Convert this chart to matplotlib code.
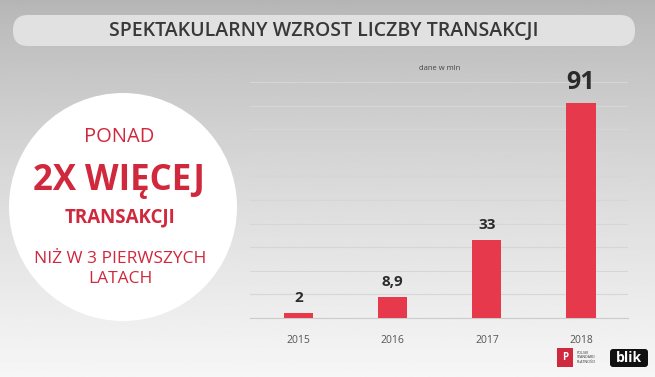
import matplotlib
matplotlib.use("Agg")
import matplotlib.pyplot as plt
from matplotlib.patches import FancyBboxPatch, Circle, Rectangle
import numpy as np

plt.rcParams['font.family'] = ['Open Sans', 'DejaVu Sans']

# data
years = ["2015", "2016", "2017", "2018"]
transakcje = [2, 8.9, 33, 91]
etykiety = ["2", "8,9", "33", "91"]
rozmiary = [11, 11, 11, 18]

W, H = 655, 377
fig = plt.figure(figsize=(W / 100, H / 100), dpi=100)

# tlo - cala figura w pikselach
bg = fig.add_axes([0, 0, 1, 1])
bg.set_xlim(0, W)
bg.set_ylim(H, 0)
bg.axis("off")
t = np.linspace(0, 1, 200) ** 0.8
grad = 0.71 + (0.965 - 0.71) * t
bg.imshow(np.repeat(grad[:, None], 2, axis=1), cmap="gray", vmin=0, vmax=1,
          extent=[0, W, H, 0], aspect="auto", zorder=0)

# naglowek
bg.add_patch(FancyBboxPatch((13, 15), 622, 31, boxstyle="round,pad=0,rounding_size=15",
                            fc="#e1e1e1", ec="none", zorder=1))
bg.text(324, 30.5, "SPEKTAKULARNY WZROST LICZBY TRANSAKCJI", ha="center", va="center",
        fontsize=14, fontweight="semibold", color="#383838", zorder=2)

# kolo po lewej
bg.add_patch(Circle((123, 207), 114, fc="white", ec="none", zorder=1))
red = "#d0283c"
bg.text(119, 137, "PONAD", ha="center", va="center", fontsize=14.5, color=red, zorder=2)
bg.text(119, 181, "2X WIĘCEJ", ha="center", va="center", fontsize=25,
        fontweight="bold", color=red, zorder=2)
bg.text(120, 217, "TRANSAKCJI", ha="center", va="center", fontsize=13.5,
        fontweight="bold", color=red, zorder=2)
bg.text(120, 259, "NIŻ W 3 PIERWSZYCH", ha="center", va="center", fontsize=12.5,
        color=red, zorder=2)
bg.text(120, 279, "LATACH", ha="center", va="center", fontsize=12.5, color=red, zorder=2)

bg.text(440, 69, "dane w mln", ha="center", va="center", fontsize=5.5, color="#444444")

# logotypy
bg.add_patch(Rectangle((557, 348), 16, 19, fc="#d0283c", ec="none", zorder=2))
bg.text(565, 357.5, "P", ha="center", va="center", fontsize=7, fontweight="bold",
        color="white", zorder=3)
bg.text(577, 357.5, "POLSKI\nSTANDARD\nPŁATNOŚCI", ha="left", va="center",
        fontsize=2.6, linespacing=1.1, color="#333333", zorder=3)
bg.add_patch(FancyBboxPatch((610, 349), 38, 18, boxstyle="round,pad=0,rounding_size=3",
                            fc="#111111", ec="none", zorder=2))
bg.text(629, 358, "blik", ha="center", va="center", fontsize=10, fontweight="bold",
        color="white", zorder=3)

# wykres slupkowy
ax = fig.add_axes([250 / W, 59 / H, 378 / W, 236 / H])
ax.patch.set_alpha(0)
x = np.arange(len(years))
bars = ax.bar(x, transakcje, width=0.31, color="#e63a4c", zorder=3)
ax.set_xlim(-0.516, 3.5)
ax.set_ylim(0, 100)
ax.set_yticks(np.arange(0, 101, 10))
ax.yaxis.grid(True, color="#d6d6d6", linewidth=0.8, zorder=0)
ax.tick_params(axis="y", left=False, labelleft=False)
ax.tick_params(axis="x", bottom=False, pad=9, labelsize=7.5, labelcolor="#555555")
ax.set_xticks(x, years)
for s in ["top", "right", "left"]:
    ax.spines[s].set_visible(False)
ax.spines["bottom"].set_color("#cccccc")
ax.spines["bottom"].set_linewidth(0.8)

for b, lab, fs in zip(bars, etykiety, rozmiary):
    ax.annotate(lab, (b.get_x() + b.get_width() / 2, b.get_height()),
                xytext=(0, 6), textcoords="offset points", ha="center", va="bottom",
                fontsize=fs, fontweight="bold", color="#2b2b2b", zorder=4)

fig.savefig("out.png", dpi=100)
